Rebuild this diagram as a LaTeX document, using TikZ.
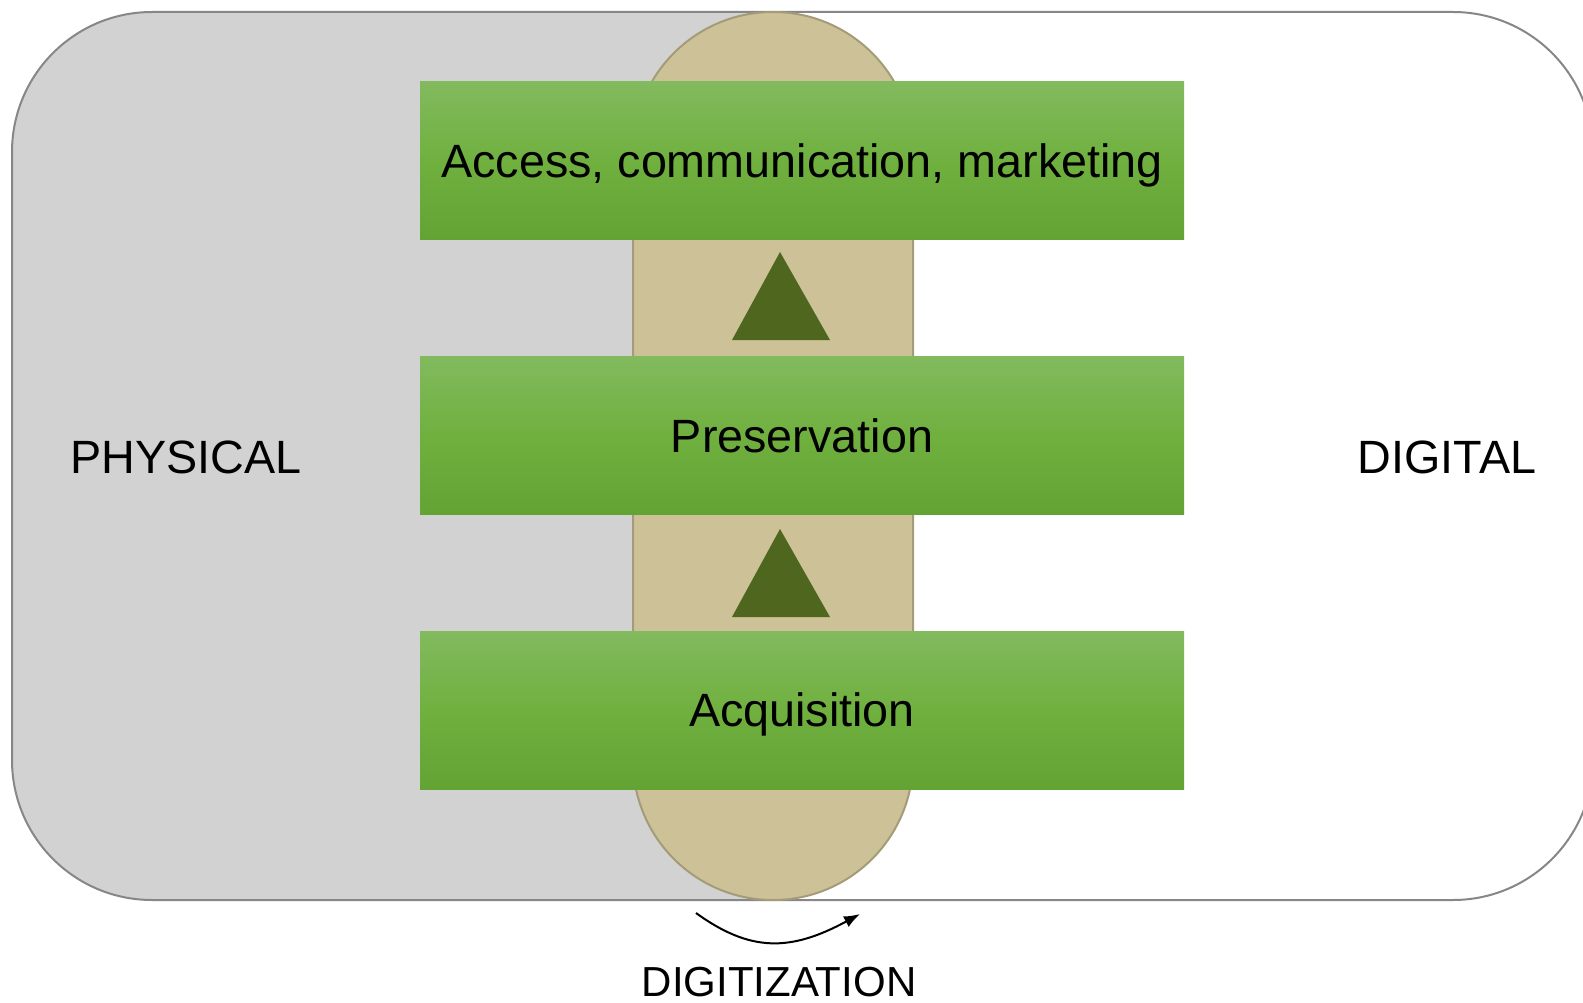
\documentclass[tikz,border=0pt]{standalone}
\usepackage{fontspec}
\setmainfont{Liberation Sans}
\usetikzlibrary{arrows.meta}
\definecolor{physgray}{HTML}{D2D2D2}
\definecolor{frameline}{HTML}{878787}
\definecolor{pilltan}{HTML}{CDC197}
\definecolor{gtop}{HTML}{82BA5E}
\definecolor{gmid}{HTML}{70B03F}
\definecolor{gbot}{HTML}{62A334}
\definecolor{triolive}{HTML}{4E661E}
\tikzset{
  stage/.style={minimum width=764pt, minimum height=158pt, inner sep=0pt,
    top color=gtop, bottom color=gbot, middle color=gmid,
    font=\fontsize{46.7}{56}\selectfont, text height=33.4pt, text depth=0pt},
  sidelabel/.style={font=\fontsize{46.7}{56}\selectfont, inner sep=0pt, text height=33.4pt, text depth=0pt},
  uptri/.style={fill=triolive},
}
\begin{document}
\begin{tikzpicture}[x=1pt,y=-1pt]
\useasboundingbox (0,0) rectangle (1583,1003);
\fill[white] (0,0) rectangle (1583,1003);
\clip (0,0) rectangle (1583,1003);
% physical shading
\begin{scope}
  \clip (0,0) rectangle (773,1003);
  \fill[physgray, rounded corners=140pt] (12,12) rectangle (1593,900);
\end{scope}
\draw[frameline, line width=2pt, rounded corners=140pt] (12,12) rectangle (1593,900);
% digitization pill
\draw[pilltan!80!black, fill=pilltan, line width=2pt, rounded corners=139.9pt] (633,12) rectangle (913,900);
% stages
\node[stage] (access) at (802,161) {Access, communication, marketing};
\node[stage] (pres) at (802,435.5) {Preservation};
\node[stage] (acq) at (802,710) {Acquisition};
% triangles
\fill[uptri] (780,252) -- (830,340) -- (732,340) -- cycle;
\fill[uptri] (780,529) -- (830,617) -- (732,617) -- cycle;
% side labels
\node[sidelabel] (phys) at (186,457) {PHYSICAL};
\node[sidelabel] (dig) at (1447,457) {DIGITAL};
\node[sidelabel, font=\fontsize{42}{50}\selectfont, text height=30pt] (digit) at (779,981) {DIGITIZATION};
% digitization arrow
\coordinate (dstart) at (696,913);
\coordinate (dend) at (860,914);
\draw[line width=2pt, -{Latex[length=16pt,width=12pt]}] (dstart) .. controls (750,952) and (790,952) .. (dend);
\end{tikzpicture}
\end{document}
